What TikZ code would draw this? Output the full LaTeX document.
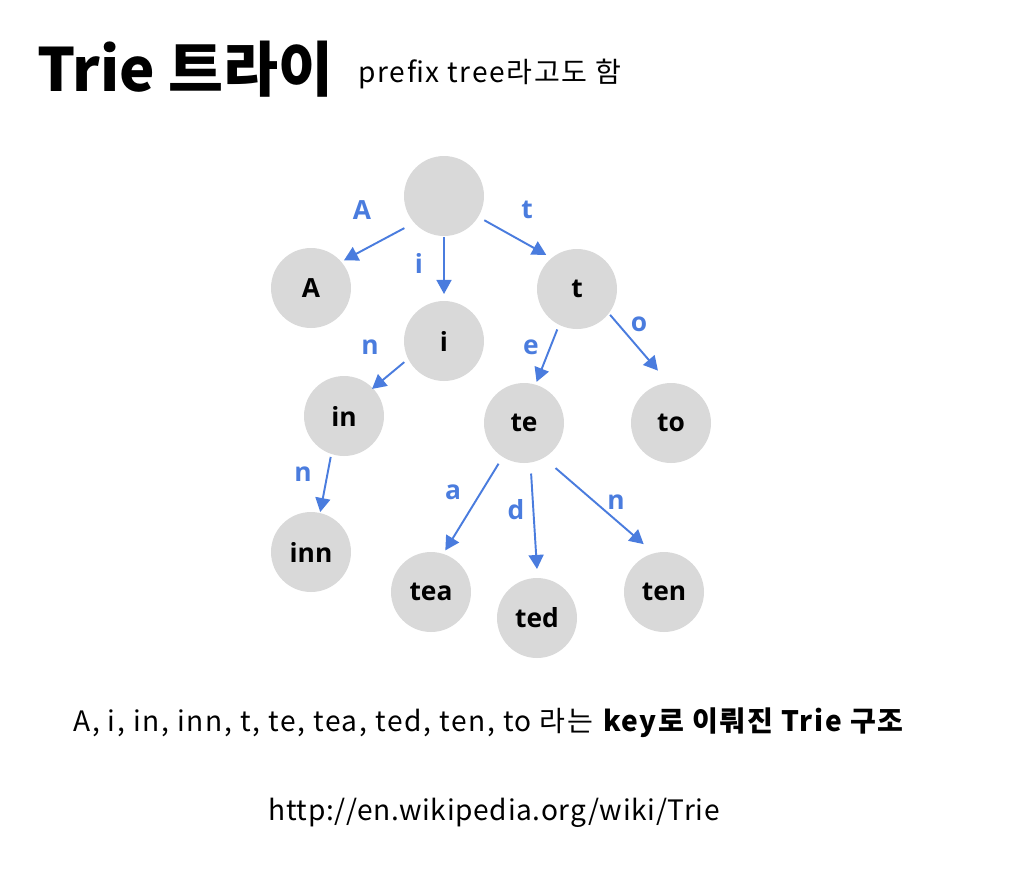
\documentclass[tikz,border=0pt]{standalone}
\usepackage{fontspec}
\setmainfont{Noto Sans CJK KR}
\newfontfamily\nodefont{Open Sans}
\usetikzlibrary{arrows.meta,calc,positioning}
\definecolor{edgeblue}{RGB}{74,124,222}
\definecolor{nodegray}{RGB}{217,217,217}

\begin{document}
\begin{tikzpicture}[x=0.02cm,y=0.02cm,
  trienode/.style={circle,fill=nodegray,minimum size=1.6cm,inner sep=0pt,
    font=\nodefont\bfseries\fontsize{15}{17}\selectfont},
  edge/.style={edgeblue,line width=1.1pt,-{Triangle[length=8pt,width=8.5pt]}},
  edgelabel/.style={text=edgeblue,inner sep=0pt,
    font=\nodefont\bfseries\fontsize{15}{17}\selectfont},
  plaintext/.style={inner sep=0pt,font=\fontsize{16}{19}\selectfont}]
  \useasboundingbox (0,0) rectangle (1024,-873);

  % title
  \node[anchor=base west,inner sep=0pt,font=\bfseries\fontsize{34}{40}\selectfont]
    (title) at (37,-91) {Trie 트라이};
  \node[plaintext,anchor=base west] (subtitle) at (358,-82)
    {\addfontfeature{LetterSpace=6}prefix tree라고도 함};

  % trie nodes
  \node[trienode] (root) at (444,-196) {};
  \node[trienode] (A)    at (311,-288) {A};
  \node[trienode] (i)    at (444,-341) {i};
  \node[trienode] (t)    at (577,-289) {t};
  \node[trienode] (in)   at (344,-416) {in};
  \node[trienode] (te)   at (524,-423) {te};
  \node[trienode] (to)   at (671,-423) {to};
  \node[trienode] (inn)  at (311,-552) {inn};
  \node[trienode] (tea)  at (431,-592) {tea};
  \node[trienode] (ted)  at (537,-618) {ted};
  \node[trienode] (ten)  at (664,-592) {ten};

  % edges
  \draw[edge] ($(root)+(219:51)$) -- ($(A)+(40:43)$);
  \draw[edge] ($(root)+(270:41)$) -- ($(i)+(90:47)$);
  \draw[edge] ($(root)+(-31:47)$) -- ($(t)+(132:46)$);
  \draw[edge] ($(i)+(208:45)$)    -- ($(in)+(44:39)$);
  \draw[edge] ($(in)+(252:43)$)   -- ($(inn)+(77:41)$);
  \draw[edge] ($(t)+(244:45)$)    -- ($(te)+(73:43)$);
  \draw[edge] ($(t)+(-38:42)$)    -- ($(to)+(104:54)$);
  \draw[edge] ($(te)+(238:48)$)   -- ($(tea)+(71:44)$);
  \draw[edge] ($(te)+(278:51)$)   -- ($(ted)+(90:49)$);
  \draw[edge] ($(te)+(-55:55)$)   -- ($(ten)+(113:52)$);

  % edge labels
  \node[edgelabel] (lA)   at (362,-210) {A};
  \node[edgelabel] (li)   at (419,-263) {i};
  \node[edgelabel] (lt)   at (527,-210) {t};
  \node[edgelabel] (ln)   at (370,-347) {n};
  \node[edgelabel] (lnn)  at (303,-474) {n};
  \node[edgelabel] (le)   at (531,-347) {e};
  \node[edgelabel] (lo)   at (639,-324) {o};
  \node[edgelabel] (la)   at (453,-492) {a};
  \node[edgelabel] (ld)   at (516,-510) {d};
  \node[edgelabel] (lten) at (616,-502) {n};

  % caption
  \node[plaintext,anchor=base west] (caption) at (73,-731)
    {\addfontfeature{LetterSpace=6}A, i, in, inn, t, te, tea, ted, ten, to 라는
     \textbf{key로 이뤄진 Trie 구조}};
  \node[plaintext,anchor=base] (source) at (494,-820)
    {\addfontfeature{LetterSpace=2.5}http://en.wikipedia.org/wiki/Trie};
\end{tikzpicture}
\end{document}
